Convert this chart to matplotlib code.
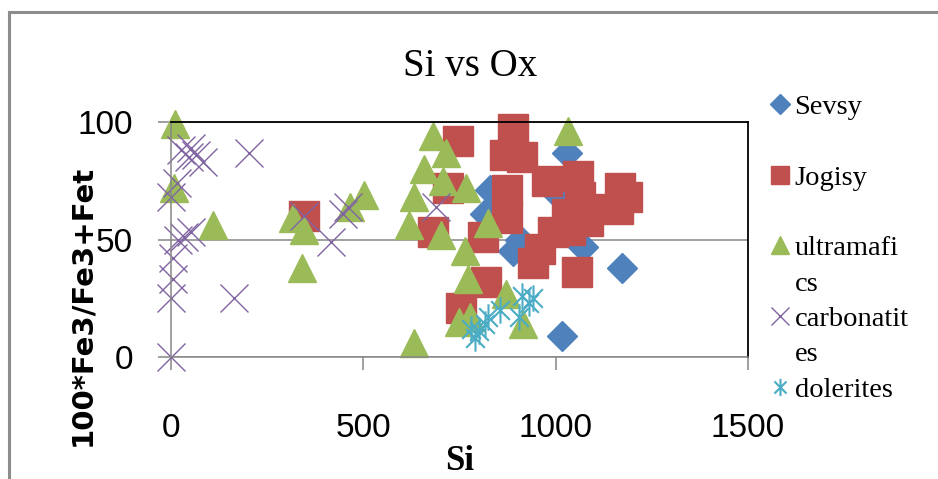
import matplotlib
matplotlib.use("Agg")
import matplotlib.pyplot as plt
from matplotlib.lines import Line2D
from matplotlib.path import Path

# data (Si, 100*Fe3/Fe3+Fet)
sevsy_x = [830, 817, 890, 908, 1030, 1000, 1111, 1070, 1173, 1017]
sevsy_y = [71, 61, 45, 50, 87, 70, 63, 47, 38, 9]

jogisy_x = [345, 747, 719, 890, 869, 913, 874, 874, 680, 812, 978, 1059, 1168,
            1186, 1163, 1064, 1082, 1030, 1038, 994, 960, 942, 1056, 820, 755, 1085]
jogisy_y = [60, 92, 72, 97, 86, 85, 71, 59, 53, 51, 75, 77, 72,
            68, 63, 68, 63, 61, 54, 53, 46, 40, 36, 32, 21, 58]

ultra_x = [10, 8, 110, 317, 345, 340, 465, 502, 631, 618, 631, 657, 680,
           714, 706, 768, 701, 825, 765, 771, 872, 777, 748, 914, 1033]
ultra_y = [99, 72, 56, 59, 54, 38, 64, 69, 6, 56, 68, 80, 94,
           87, 75, 72, 52, 57, 45, 33, 27, 17, 15, 14, 96]

carb_x = [0, 0, 164, 5, 5, 18, 34, 52, 0, 15, 26, 47, 65, 83, 52, 202,
          415, 459, 446, 345, 688]
carb_y = [0, 25, 25, 33, 42, 50, 51, 53, 68, 74, 88, 85, 86, 83, 89, 87,
          49, 64, 61, 60, 64]

dol_x = [790, 800, 815, 825, 855, 905, 912, 930, 940, 780]
dol_y = [8, 11, 14, 17, 20, 17, 26, 23, 25, 12]

x_ticks = [0, 500, 1000, 1500]
y_ticks = [0, 50, 100]

# excel style asterisk: vertical bar plus an x
star = Path([(0, -1), (0, 1), (-0.707, -0.707), (0.707, 0.707),
             (-0.707, 0.707), (0.707, -0.707)],
            [Path.MOVETO, Path.LINETO] * 3)

fig = plt.figure(figsize=(9.38, 4.79), dpi=100)
ax = fig.add_axes([171 / 938, 1 - 357 / 479, 577 / 938, 235 / 479])

ax.plot(sevsy_x, sevsy_y, 'D', ms=15, color='#4f81bd', mec='#4f81bd', label='Sevsy', clip_on=False)
ax.plot(jogisy_x, jogisy_y, 's', ms=21, color='#c0504d', mec='#c0504d', label='Jogisy', clip_on=False)
ax.plot(ultra_x, ultra_y, '^', ms=20, color='#9bbb59', mec='#9bbb59', label='ultramafics', clip_on=False)
ax.plot(carb_x, carb_y, 'x', ms=20, mew=1.0, color='#8064a2', label='carbonatites', clip_on=False)
ax.plot(dol_x, dol_y, linestyle='none', marker=star, ms=19, mew=1.5,
        mfc='none', mec='#4bacc6', label='dolerites', clip_on=False)

ax.set_xlim(0, 1500)
ax.set_ylim(0, 100)
ax.set_xticks(x_ticks)
ax.set_yticks(y_ticks)
ax.set_xticklabels([str(v) for v in x_ticks], family='Liberation Sans', fontsize=24)
ax.set_yticklabels([str(v) for v in y_ticks], family='Liberation Sans', fontsize=24)
ax.tick_params(axis='x', direction='out', length=9.4, width=1.1, color='#868686', pad=31)
ax.tick_params(axis='y', direction='out', length=9.4, width=1.1, color='#868686', pad=18)
ax.yaxis.grid(True, color='#868686', lw=1.1)
ax.set_axisbelow(True)
for s in ['left', 'bottom']:
    ax.spines[s].set_color('#868686')
    ax.spines[s].set_linewidth(1.1)
for s in ['top', 'right']:
    ax.spines[s].set_color('black')
    ax.spines[s].set_linewidth(1.3)

# legend, long names wrap like the original
blank = Line2D([], [], linestyle='none')
h = ax.get_lines()
handles = [h[0], blank, h[1], blank, h[2], blank, h[3], blank, h[4]]
labels = ['Sevsy', '', 'Jogisy', '', 'ultramafi', 'cs', 'carbonatit', 'es', 'dolerites']
leg = ax.legend(handles, labels, loc='upper left', bbox_to_anchor=(769 / 938, 1 - 94 / 479),
                bbox_transform=fig.transFigure, frameon=False, borderpad=0,
                borderaxespad=0, handlelength=0.8, handletextpad=0.1, labelspacing=0.33,
                markerscale=0.65, prop={'family': 'Liberation Serif', 'size': 20.5})

fig.text(470 / 938, 1 - 67 / 479, 'Si vs Ox', ha='center', va='center',
         family='Liberation Serif', fontsize=28)
fig.text(460 / 938, 1 - 461 / 479, 'Si', ha='center', va='center',
         family='Liberation Serif', weight='bold', fontsize=25)
fig.text(82 / 938, 1 - 305 / 479, '100*Fe3/Fe3+Fet', ha='center', va='center',
         rotation=90, family='DejaVu Sans', weight='bold', fontsize=21)

# chart area frame (top and left edge visible)
fig.add_artist(Line2D([9 / 938, 9 / 938], [0, 1 - 12 / 479], transform=fig.transFigure,
                      color='#8c8c8c', lw=2.2))
fig.add_artist(Line2D([9 / 938, 1], [1 - 12 / 479, 1 - 12 / 479], transform=fig.transFigure,
                      color='#8c8c8c', lw=2.2))

fig.savefig('out.png', dpi=100)
